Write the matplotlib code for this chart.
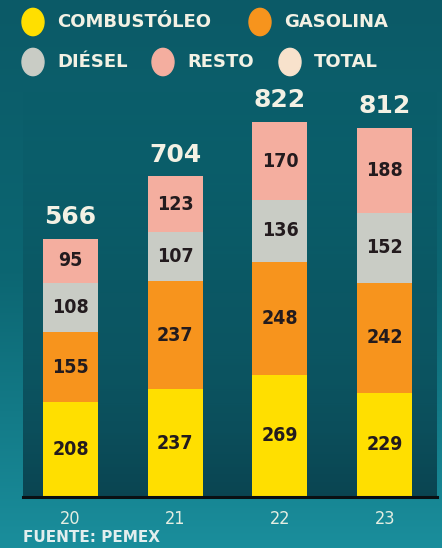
import matplotlib
matplotlib.use("Agg")
import matplotlib.pyplot as plt
import numpy as np
from matplotlib.colors import LinearSegmentedColormap
from matplotlib.patches import Circle

# data
years = ["20", "21", "22", "23"]
combustoleo = [208, 237, 269, 229]
gasolina = [155, 237, 248, 242]
diesel = [108, 107, 136, 152]
resto = [95, 123, 170, 188]
total = [566, 704, 822, 812]
series_names = ["COMBUSTÓLEO", "GASOLINA", "DIÉSEL", "RESTO", "TOTAL"]
source = "FUENTE: PEMEX"

colors = ["#FFDF00", "#F7941D", "#C9CCC5", "#F4AE9F", "#F8E2CC"]
txt_dark = "#231B1E"
txt_light = "#F3F1E4"

fig = plt.figure(figsize=(4.42, 5.48), dpi=100)

# figure background gradient
bg = fig.add_axes([0, 0, 1, 1], zorder=-10)
bg_cmap = LinearSegmentedColormap.from_list("bg", ["#0B5A67", "#0C6672", "#1A8E9C"])
bg.imshow(np.linspace(0, 1, 256).reshape(-1, 1), aspect="auto", cmap=bg_cmap,
          extent=[0, 1, 0, 1], origin="upper")
bg.axis("off")

ax = fig.add_axes([23 / 442, 51 / 548, 414 / 442, 407 / 548])
ax.set_facecolor("none")
# darker panel fading in from the top
pa_cmap = LinearSegmentedColormap.from_list(
    "pa", [(0.04, 0.33, 0.38, 0.0), (0.04, 0.30, 0.35, 0.6), (0.04, 0.27, 0.32, 1.0)])
ax.imshow(np.linspace(0, 1, 256).reshape(-1, 1), aspect="auto", cmap=pa_cmap,
          extent=[0, 1, 0, 1], origin="upper", transform=ax.transAxes, zorder=0)

x = np.arange(len(years))
w = 0.525
bottom = np.zeros(len(years))
for vals, c in zip([combustoleo, gasolina, diesel, resto], colors[:4]):
    ax.bar(x, vals, w, bottom=bottom, color=c, zorder=2)
    for xi, b, v in zip(x, bottom, vals):
        ax.text(xi, b + v / 2, str(v), ha="center", va="center", fontsize=14,
                fontweight="bold", fontstretch="condensed", color=txt_dark, zorder=3)
    bottom += np.array(vals)

for xi, t, b in zip(x, total, bottom):
    ax.text(xi, b + 48, str(t), ha="center", va="center", fontsize=18,
            fontweight="bold", color=txt_light, zorder=3)

ax.set_xlim(-0.454, 3.50)
ax.set_ylim(0, 894)
ax.set_xticks(x)
ax.set_xticklabels(years, fontsize=13, color="#E4EEE2", fontstretch="condensed")
ax.tick_params(axis="x", length=0, pad=9)
ax.set_yticks([])
for s in ["top", "left", "right"]:
    ax.spines[s].set_visible(False)
ax.spines["bottom"].set_color("#0A0F12")
ax.spines["bottom"].set_linewidth(2.2)
ax.spines["bottom"].set_zorder(4)

# legend
W, H = 442, 548
legend_pos = [(33, 22), (260, 22), (33, 62), (163, 62), (290, 62)]
for name, c, (px, py) in zip(series_names, colors, legend_pos):
    fig.add_artist(Circle((px / W, 1 - py / H), 11 / W, color=c,
                          transform=fig.transFigure))
    fig.text((px + 24) / W, 1 - py / H, name, ha="left", va="center",
             fontsize=13, fontweight="bold", color=txt_light)

fig.text(23 / W, 1 - 538 / H, source, ha="left", va="center", fontsize=11,
         fontweight="bold", color="#E2EEEE")

fig.savefig("out.png", dpi=100)
